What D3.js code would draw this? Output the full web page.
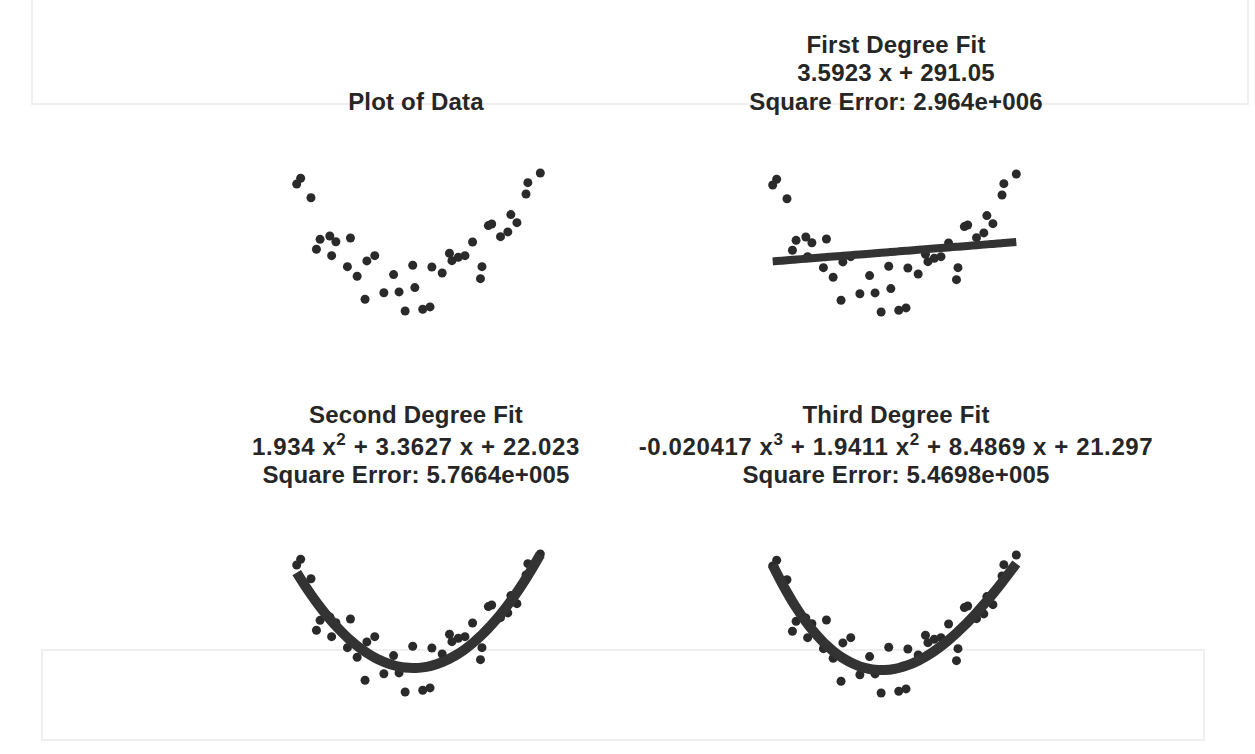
<!DOCTYPE html>
<html lang="en">
<head>
  <meta charset="UTF-8">
  <title>Polynomial Fits</title>
  <script src="https://cdn.jsdelivr.net/npm/d3@7"></script>
  <style>
    body { margin: 0; padding: 0; background: #ffffff; }
    svg { display: block; }
  </style>
</head>
<body>
<div id="chart"></div>

<script>
  // sample points
  const xData = [-19.4, -20.05, -17.7, -16.2, -14.6, -13.6, -16.8, -14.3, -11.2, -11.7,
                 -10.1, -8.5, -7.2, -8.8, -5.7, -4.1, -3.2, -0.95, -0.6, -2.2,
                 0.7, 1.9, 2.2, 3.9, 5.1, 5.5, 6.55, 7.65, 8.9, 10.45,
                 10.2, 11.5, 12.05, 13.5, 14.7, 15.2, 16.2, 17.7, 18.0, 20.05];
  const yData = [831, 788, 686, 376, 401, 358, 302, 254, 386, 172,
                 101, 215, 254, -71, -22, 113, -16, 183, 16, -158,
                 -145, -128, 170, 125, 272, 217, 242, 254, 356, 172,
                 83, 478, 490, 396, 431, 560, 500, 714, 798, 870];

  // fit coefficients, highest power first
  const linCoef = [3.5923, 291.05];
  const quadCoef = [1.934, 3.3627, 22.023];
  const cubicCoef = [-0.020417, 1.9411, 8.4869, 21.297];

  // panel titles ("^" marks a superscript digit)
  const titles1 = ["Plot of Data"];
  const titles2 = ["First Degree Fit", "3.5923 x + 291.05", "Square Error: 2.964e+006"];
  const titles3 = ["Second Degree Fit", "1.934 x^2 + 3.3627 x + 22.023", "Square Error: 5.7664e+005"];
  const titles4 = ["Third Degree Fit", "-0.020417 x^3 + 1.9411 x^2 + 8.4869 x + 21.297", "Square Error: 5.4698e+005"];

  const width = 1255, height = 754;
  const ink = "#2a2a2a";

  const svg = d3.select("#chart").append("svg")
          .attr("width", width)
          .attr("height", height);

  // faint show-through of the scanned page
  const ghost = svg.append("g").attr("fill", "none").attr("stroke", "#efefef").attr("stroke-width", 2);
  ghost.append("rect").attr("x", 32).attr("y", -4).attr("width", 1216).attr("height", 108);
  ghost.append("rect").attr("x", 42).attr("y", 650).attr("width", 1162).attr("height", 90);

  const panels = [
    {titles: titles1, coef: null, ox: 0, oy: 0, tx: 416, ty: [110]},
    {titles: titles2, coef: linCoef, ox: 476, oy: 1, tx: 896, ty: [53, 81, 110], lw: 8},
    {titles: titles3, coef: quadCoef, ox: 0, oy: 381, tx: 416, ty: [423, 455, 483], lw: 10},
    {titles: titles4, coef: cubicCoef, ox: 476, oy: 382, tx: 896, ty: [423, 455, 483], lw: 10}
  ];

  const polyval = (c, x) => c.reduce((acc, k) => acc * x + k, 0);
  const order = d3.range(xData.length).sort((a, b) => xData[a] - xData[b]);

  panels.forEach(p => {
    const x = d3.scaleLinear().domain([-20, 20]).range([297 + p.ox, 540 + p.ox]);
    const y = d3.scaleLinear().domain([-200, 900]).range([316.6 + p.oy, 169 + p.oy]);

    const g = svg.append("g");

    g.selectAll("circle")
            .data(d3.range(xData.length))
            .join("circle")
            .attr("cx", i => x(xData[i]))
            .attr("cy", i => y(yData[i]))
            .attr("r", 4.5)
            .attr("fill", ink);

    if (p.coef) {
      const line = d3.line()
              .x(i => x(xData[i]))
              .y(i => y(polyval(p.coef, xData[i])))
              .curve(d3.curveMonotoneX);
      g.append("path")
              .attr("d", line(order))
              .attr("fill", "none")
              .attr("stroke", "#333")
              .attr("stroke-width", p.lw)
              .attr("stroke-linejoin", "round");
    }

    // titles
    p.titles.forEach((t, k) => {
      const hasSup = t.includes("^");
      const text = g.append("text")
              .attr("x", p.tx)
              .attr("y", p.ty[k])
              .attr("text-anchor", "middle")
              .attr("font-family", "'Liberation Sans', Arial, sans-serif")
              .attr("font-weight", "bold")
              .attr("font-size", 24)
              .attr("letter-spacing", hasSup ? 0.6 : 0.2)
              .attr("fill", "#262626");
      const parts = t.split(/\^(\d)/);
      let raised = false;
      parts.forEach((s, j) => {
        if (s === "") return;
        const sup = j % 2 === 1;
        const span = text.append("tspan").text(s);
        if (sup) {
          span.attr("font-size", 17).attr("dy", -10);
          raised = true;
        } else if (raised) {
          span.attr("dy", 10);
          raised = false;
        }
      });
    });
  });
</script>
</body>
</html>
